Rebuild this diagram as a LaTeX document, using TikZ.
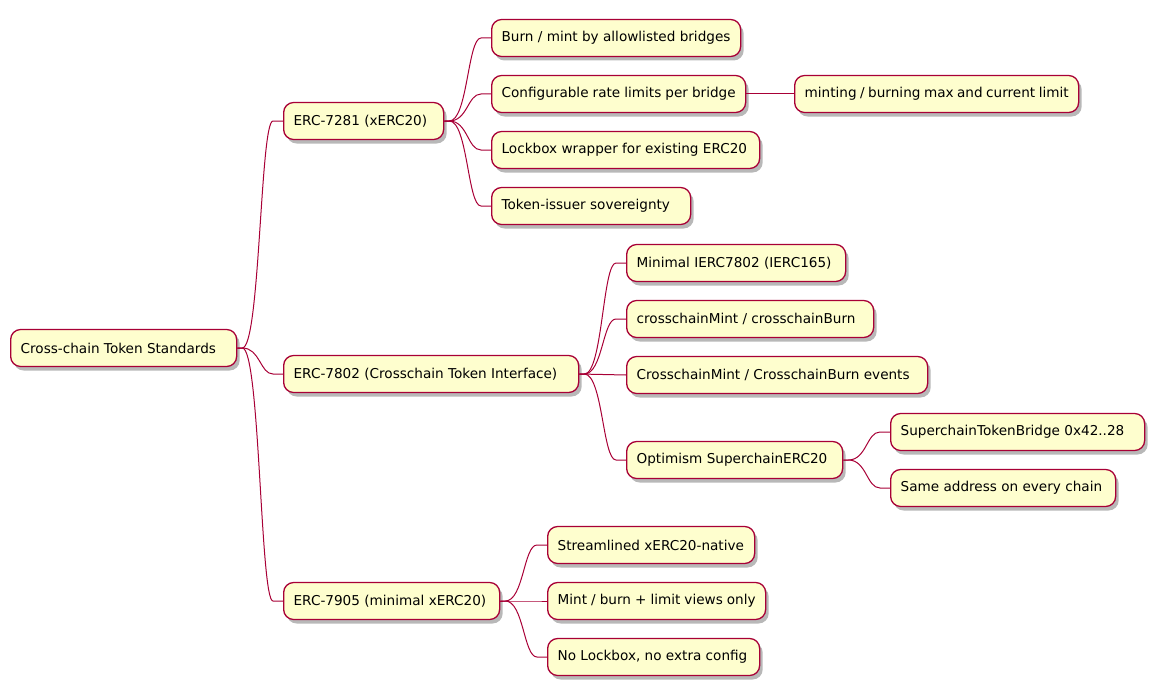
\documentclass[tikz,border=0pt]{standalone}
\usepackage{fontspec}
\setmainfont{DejaVu Sans}
\usetikzlibrary{shadows,calc}
\definecolor{nodefill}{HTML}{FEFECE}
\definecolor{nodeline}{HTML}{A80036}
\tikzset{
  mm/.style={draw=nodeline, fill=nodefill, line width=1.3pt, rounded corners=10pt,
    anchor=west, minimum height=37pt, inner xsep=10pt, inner ysep=0pt,
    font=\fontsize{13.6}{17}\selectfont,
    execute at begin node={\hbox to \dimexpr#1pt-20pt\relax\bgroup},
    execute at end node={\hfil\egroup},
    drop shadow={shadow xshift=3pt, shadow yshift=-4pt, opacity=0.28, fill=black}},
  conn/.style={draw=nodeline, line width=1pt}
}
\newcommand{\mmedge}[2]{%
  \draw[conn] let \p1=(#1.east), \p2=(#2.west) in
    (\p1) -- ({\x1+5pt},\y1) .. controls ({(\x1+\x2)/2},\y1) and ({(\x1+\x2)/2},\y2) .. ({\x2-10pt},\y2) -- (\p2);}
\begin{document}
\begin{tikzpicture}[x=1pt,y=-1pt]
\useasboundingbox (0,0) rectangle (1152,685);
\node[mm=226] (root) at (10,348) {Cross-chain Token Standards};
\node[mm=160] (a) at (283,121) {ERC-7281 (xERC20)};
\node[mm=295] (b) at (283,374) {ERC-7802 (Crosschain Token Interface)};
\node[mm=216] (c) at (283,601) {ERC-7905 (minimal xERC20)};
\node[mm=249] (a1) at (491,38) {Burn / mint by allowlisted bridges};
\node[mm=254] (a2) at (491,94) {Configurable rate limits per bridge};
\node[mm=268] (a3) at (491,150) {Lockbox wrapper for existing ERC20};
\node[mm=199] (a4) at (491,206) {Token-issuer sovereignty};
\node[mm=284] (a21) at (794,94) {minting / burning max and current limit};
\node[mm=219] (b1) at (626,263) {Minimal IERC7802 (IERC165)};
\node[mm=247] (b2) at (626,319) {crosschainMint / crosschainBurn};
\node[mm=301] (b3) at (626,375) {CrosschainMint / CrosschainBurn events};
\node[mm=216] (b4) at (626,460) {Optimism SuperchainERC20};
\node[mm=254] (b41) at (890,432) {SuperchainTokenBridge 0x42..28};
\node[mm=225] (b42) at (890,488) {Same address on every chain};
\node[mm=207] (c1) at (547,545) {Streamlined xERC20-native};
\node[mm=218] (c2) at (547,601) {Mint / burn + limit views only};
\node[mm=212] (c3) at (547,657) {No Lockbox, no extra config};
\mmedge{root}{a}
\mmedge{root}{b}
\mmedge{root}{c}
\mmedge{a}{a1}
\mmedge{a}{a2}
\mmedge{a}{a3}
\mmedge{a}{a4}
\draw[conn] (a2.east) -- (a21.west);
\mmedge{b}{b1}
\mmedge{b}{b2}
\draw[conn] (b.east) -- (b3.west);
\mmedge{b}{b4}
\mmedge{b4}{b41}
\mmedge{b4}{b42}
\mmedge{c}{c1}
\mmedge{c}{c2}
\mmedge{c}{c3}
\end{tikzpicture}
\end{document}
